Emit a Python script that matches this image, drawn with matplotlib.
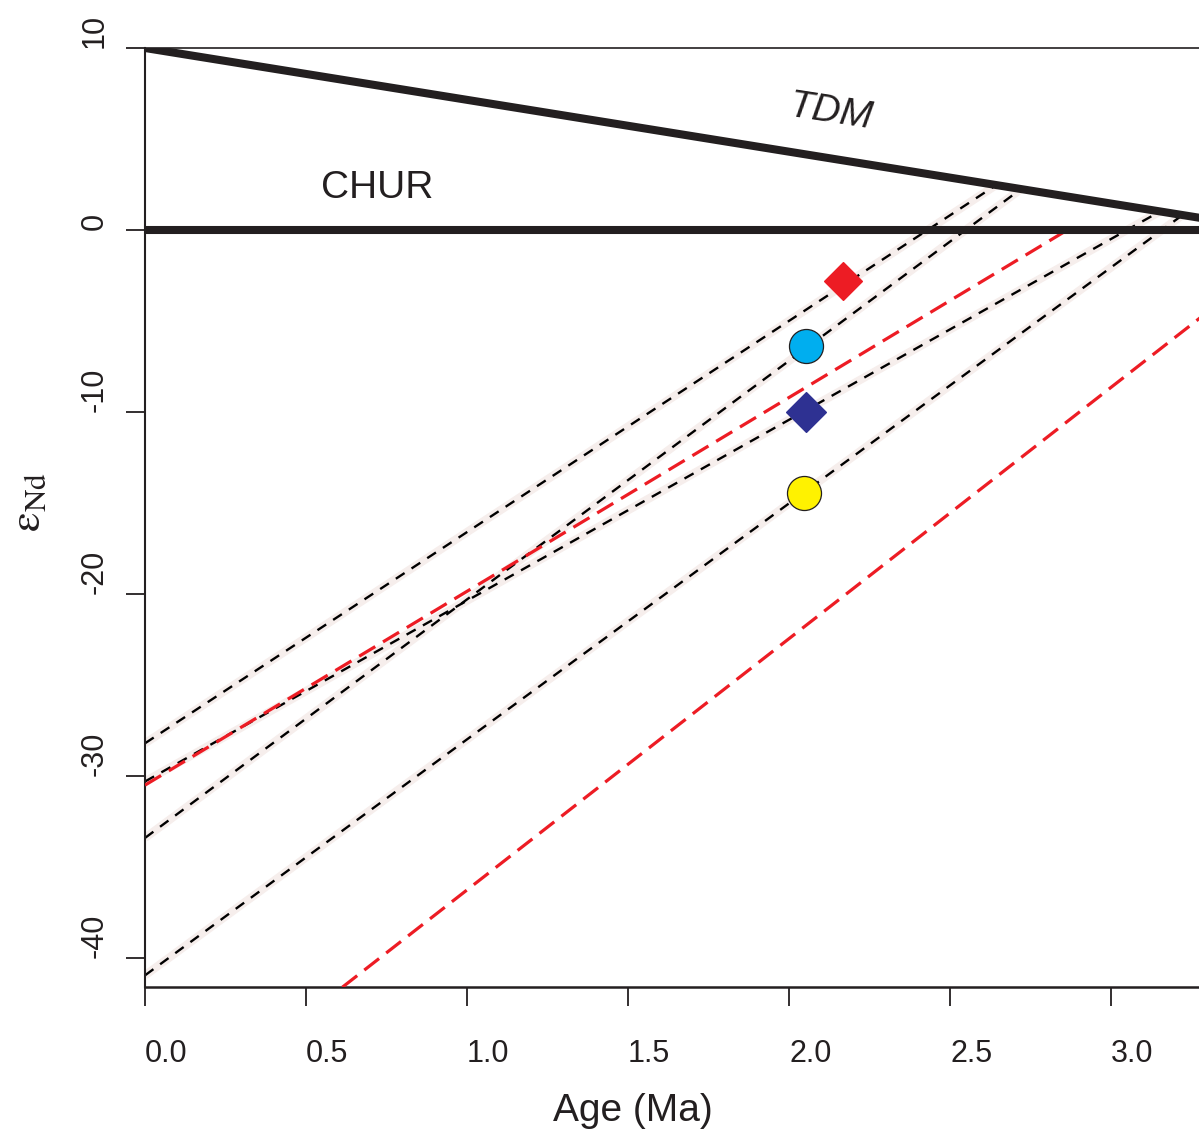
import matplotlib
matplotlib.use("Agg")
import matplotlib.pyplot as plt

plt.rcParams['font.family'] = ['Liberation Sans', 'DejaVu Sans']
plt.rcParams['mathtext.fontset'] = 'stix'
plt.rcParams['axes.unicode_minus'] = False
plt.rcParams['lines.scale_dashes'] = False

# ---------------- data ----------------
age_ticks = [0.0, 0.5, 1.0, 1.5, 2.0, 2.5, 3.0]
age_tick_labels = ['0.0', '0.5', '1.0', '1.5', '2.0', '2.5', '3.0']
eps_ticks = [-40, -30, -20, -10, 0, 10]
eps_tick_labels = ['-40', '-30', '-20', '-10', '0', '10']

# reference lines
tdm_age = [0.0, 3.5]
tdm_eps = [10.0, 0.03]
chur_age = [0.0, 3.5]
chur_eps = [0.0, 0.0]

# black dashed Nd evolution lines (present day -> TDM)
evolA_age = [0.0, 2.643]
evolA_eps = [-28.2, 2.47]
evolB_age = [0.0, 2.72]
evolB_eps = [-33.4, 2.25]
evolC_age = [0.0, 3.15]
evolC_eps = [-30.3, 1.0]
evolD_age = [0.0, 3.22]
evolD_eps = [-40.95, 0.8]

# red dashed lines
red1_age = [0.0, 2.864]
red1_eps = [-30.5, 0.0]
red2_age = [0.613, 3.3]
red2_eps = [-41.6, -4.5]

# samples
sample_age = [2.167, 2.052, 2.052, 2.046]
sample_eps = [-2.8, -6.37, -10.0, -14.45]
sample_marker = ['D', 'o', 'D', 'o']
sample_color = ['#ED1C24', '#00AEEF', '#2E3192', '#FFF200']
sample_size = [19.5, 24.5, 20.0, 24.5]
sample_edge = ['#ED1C24', '#231F20', '#2E3192', '#231F20']

# ---------------- figure ----------------
W, H = 1199, 1140
fig = plt.figure(figsize=(W / 100, H / 100), dpi=100)
ax = fig.add_axes([145 / W, 1 - 987 / H, 1 - 145 / W, (987 - 48) / H])
ax.set_xlim(0, 3.273)
ax.set_ylim(-41.59, 10)

ink = '#231F20'
halo = '#f6eeec'
evols = [(evolA_age, evolA_eps), (evolB_age, evolB_eps),
         (evolC_age, evolC_eps), (evolD_age, evolD_eps)]
for xa, ya in evols:
    ax.plot(xa, ya, color=halo, lw=6, solid_capstyle='butt', zorder=1)
for xa, ya in evols:
    ax.plot(xa, ya, color='black', lw=1.7, dashes=(7.5, 6), zorder=2)

for xa, ya in [(red1_age, red1_eps), (red2_age, red2_eps)]:
    ax.plot(xa, ya, color='#ED1C24', lw=2.3, dashes=(13.5, 6.5), zorder=3)

ax.plot(tdm_age, tdm_eps, color=ink, lw=5.8, solid_capstyle='butt', zorder=4)
ax.plot(chur_age, chur_eps, color=ink, lw=5.8, solid_capstyle='butt', zorder=4)

for xa, ya, m, c, s, e in zip(sample_age, sample_eps, sample_marker,
                             sample_color, sample_size, sample_edge):
    ax.plot([xa], [ya], marker=m, ms=s, mfc=c, mec=e, mew=0.9,
            linestyle='none', zorder=6)

ax.text(0.722, 1.76, 'CHUR', fontsize=28, ha='center', va='baseline',
        color=ink, zorder=7)
ax.text(2.13, 6.43, 'TDM', fontsize=28, style='italic', ha='center',
        va='center', rotation=-8.8, rotation_mode='anchor', color=ink, zorder=7)

# axes styling
ax.spines['right'].set_visible(False)
ax.spines['top'].set_linewidth(1.2)
ax.spines['left'].set_linewidth(1.5)
ax.spines['bottom'].set_linewidth(1.8)
for s in ['top', 'left', 'bottom']:
    ax.spines[s].set_color(ink)

ax.set_xticks(age_ticks)
ax.set_xticklabels(age_tick_labels)
ax.set_yticks(eps_ticks)
ax.set_yticklabels(eps_tick_labels)
ax.tick_params(axis='both', direction='out', length=13.7, width=1.3,
               color=ink, labelsize=22, labelcolor=ink)
ax.tick_params(axis='x', pad=24)
ax.tick_params(axis='y', pad=12)
for lab in ax.get_xticklabels():
    lab.set_ha('left')
for lab in ax.get_yticklabels():
    lab.set_rotation(90)
    lab.set_va('bottom')

ax.set_xlabel('Age (Ma)', fontsize=28, color=ink)
ax.xaxis.set_label_coords((633 - 145) / (W - 145), (987 - 1093) / (987 - 48))

fig.text(28 / W, 1 - 502 / H, r'$\mathrm{ε}_{\mathrm{Nd}}$', rotation=90,
         ha='center', va='center', fontsize=32, color=ink)

fig.savefig('out.png', dpi=100)
